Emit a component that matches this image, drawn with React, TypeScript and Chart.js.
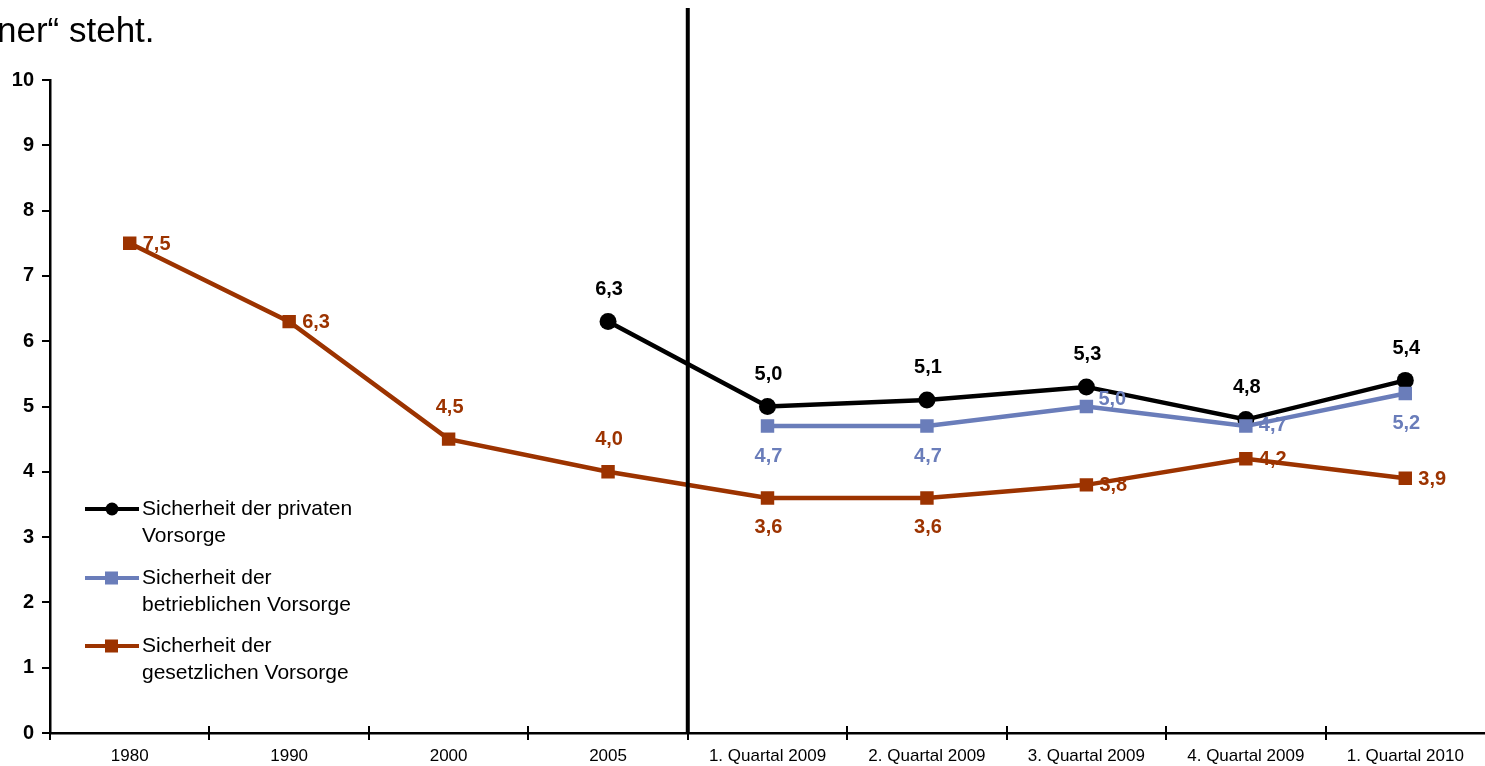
import React, { useEffect, useRef } from "react";
import { Chart, registerables } from "chart.js";

Chart.register(...registerables);

const categories = [
  "1980",
  "1990",
  "2000",
  "2005",
  "1. Quartal 2009",
  "2. Quartal 2009",
  "3. Quartal 2009",
  "4. Quartal 2009",
  "1. Quartal 2010",
];
const privat: (number | null)[] = [null, null, null, 6.3, 5.0, 5.1, 5.3, 4.8, 5.4];
const betrieblich: (number | null)[] = [null, null, null, null, 4.7, 4.7, 5.0, 4.7, 5.2];
const gesetzlich: (number | null)[] = [7.5, 6.3, 4.5, 4.0, 3.6, 3.6, 3.8, 4.2, 3.9];

const privatPlace = ["", "", "", "above", "above", "above", "above", "above", "above"];
const betrieblichPlace = ["", "", "", "", "below", "below", "rightup", "right", "below"];
const gesetzlichPlace = ["right", "right", "above", "above", "below", "below", "right", "right", "right"];

const seriesNames = [
  ["Sicherheit der privaten", "Vorsorge"],
  ["Sicherheit der", "betrieblichen Vorsorge"],
  ["Sicherheit der", "gesetzlichen Vorsorge"],
];
const headerText = "ner\u201C steht.";

const BLACK = "#000000";
const BLUE = "#6A7DBA";
const BROWN = "#9C3300";
const FONT = "Arial, 'Liberation Sans', sans-serif";

const fmt = (v: number) => v.toFixed(1).replace(".", ",");

export default function App() {
  const ref = useRef<HTMLCanvasElement | null>(null);

  useEffect(() => {
    document.body.style.margin = "0";
    const canvas = ref.current;
    if (!canvas) return;

    const decor = {
      id: "decor",
      afterDatasetsDraw(chart: any) {
        const ctx = chart.ctx;
        const xs = chart.scales.x;
        const ys = chart.scales.y;
        const sets = [
          { data: privat, place: privatPlace, color: BLACK },
          { data: betrieblich, place: betrieblichPlace, color: BLUE },
          { data: gesetzlich, place: gesetzlichPlace, color: BROWN },
        ];
        ctx.save();
        ctx.font = `bold 20px ${FONT}`;
        ctx.textBaseline = "middle";
        for (const s of sets) {
          ctx.fillStyle = s.color;
          s.data.forEach((v, i) => {
            if (v == null) return;
            const px = xs.getPixelForValue(i);
            const py = ys.getPixelForValue(v);
            const p = s.place[i];
            if (p === "above") {
              ctx.textAlign = "center";
              ctx.fillText(fmt(v), px + 1, py - 32);
            } else if (p === "below") {
              ctx.textAlign = "center";
              ctx.fillText(fmt(v), px + 1, py + 30);
            } else if (p === "rightup") {
              ctx.textAlign = "left";
              ctx.fillText(fmt(v), px + 12, py - 7);
            } else {
              ctx.textAlign = "left";
              ctx.fillText(fmt(v), px + 13, py + (s.color === BLUE ? -1 : 1));
            }
          });
        }
        ctx.restore();
      },
      afterDraw(chart: any) {
        const ctx = chart.ctx;
        const xs = chart.scales.x;
        const ca = chart.chartArea;
        const n = categories.length;
        const w = (ca.right - ca.left) / n;
        ctx.save();
        // x tick marks crossing axis
        ctx.strokeStyle = "#000";
        ctx.lineWidth = 2;
        for (let i = 0; i < n; i++) {
          const bx = Math.round(ca.left + i * w);
          ctx.beginPath();
          ctx.moveTo(bx, ca.bottom - 7);
          ctx.lineTo(bx, ca.bottom + 7);
          ctx.stroke();
        }
        // separator line
        const sx = (xs.getPixelForValue(3) + xs.getPixelForValue(4)) / 2;
        ctx.lineWidth = 4;
        ctx.beginPath();
        ctx.moveTo(sx, 8);
        ctx.lineTo(sx, ca.bottom);
        ctx.stroke();

        // header text
        ctx.fillStyle = "#000";
        ctx.font = `35px ${FONT}`;
        ctx.textAlign = "left";
        ctx.textBaseline = "alphabetic";
        ctx.fillText(headerText, -3, 42);

        // legend
        const legend = [
          { color: BLACK, shape: "circle" },
          { color: BLUE, shape: "rect" },
          { color: BROWN, shape: "rect" },
        ];
        const y0 = [509, 578, 646];
        ctx.font = `21px ${FONT}`;
        ctx.textBaseline = "middle";
        legend.forEach((l, k) => {
          const y = y0[k];
          ctx.strokeStyle = l.color;
          ctx.fillStyle = l.color;
          ctx.lineWidth = 4;
          ctx.beginPath();
          ctx.moveTo(85, y);
          ctx.lineTo(139, y);
          ctx.stroke();
          if (l.shape === "circle") {
            ctx.beginPath();
            ctx.arc(112, y, 6.5, 0, Math.PI * 2);
            ctx.fill();
          } else {
            ctx.fillRect(105, y - 6.5, 13, 13);
          }
          ctx.fillStyle = "#000";
          ctx.fillText(seriesNames[k][0], 142, y);
          ctx.fillText(seriesNames[k][1], 142, y + 27);
        });
        ctx.restore();
      },
    };

    const chart = new Chart(canvas, {
      type: "line",
      data: {
        labels: categories,
        datasets: [
          {
            label: seriesNames[0].join(" "),
            data: privat,
            borderColor: BLACK,
            backgroundColor: BLACK,
            borderWidth: 4.5,
            pointStyle: "circle",
            pointRadius: 8.5,
            pointBorderWidth: 0,
            order: 3,
          },
          {
            label: seriesNames[1].join(" "),
            data: betrieblich,
            borderColor: BLUE,
            backgroundColor: BLUE,
            borderWidth: 4.5,
            pointStyle: "rect",
            pointRadius: 9.5,
            pointBorderWidth: 0,
            order: 2,
          },
          {
            label: seriesNames[2].join(" "),
            data: gesetzlich,
            borderColor: BROWN,
            backgroundColor: BROWN,
            borderWidth: 4.5,
            pointStyle: "rect",
            pointRadius: 9.5,
            pointBorderWidth: 0,
            order: 1,
          },
        ],
      },
      options: {
        responsive: false,
        animation: false,
        devicePixelRatio: 1,
        layout: { autoPadding: false, padding: { top: 80, right: 0, left: 0, bottom: 0 } },
        plugins: {
          legend: { display: false },
          tooltip: { enabled: false },
        },
        scales: {
          x: {
            offset: true,
            grid: {
              display: true,
              drawOnChartArea: false,
              drawTicks: true,
              tickLength: 12,
              tickColor: "rgba(0,0,0,0)",
              offset: true,
            },
            border: { display: true, color: "#000", width: 2.5 },
            ticks: {
              color: "#000",
              font: { family: FONT, size: 17 },
              padding: 1,
              maxRotation: 0,
              autoSkip: false,
            },
            afterFit(scale: any) {
              scale.height = 33;
              scale.paddingLeft = 0;
              scale.paddingRight = 0;
            },
          },
          y: {
            min: 0,
            max: 10,
            ticks: {
              stepSize: 1,
              color: "#000",
              font: { family: FONT, size: 20, weight: "bold" },
              padding: 8,
            },
            grid: {
              display: true,
              drawOnChartArea: false,
              drawTicks: true,
              tickLength: 8,
              color: "#000",
              lineWidth: 2,
            },
            border: { display: true, color: "#000", width: 2.5 },
            afterFit(scale: any) {
              scale.width = 50;
              scale.paddingTop = 0;
              scale.paddingBottom = 0;
            },
          },
        },
      },
      plugins: [decor],
    } as any);

    return () => chart.destroy();
  }, []);

  return (
    <div style={{ width: 1485, height: 766, position: "relative" }}>
      <canvas ref={ref} width={1485} height={766} style={{ display: "block" }} />
    </div>
  );
}
